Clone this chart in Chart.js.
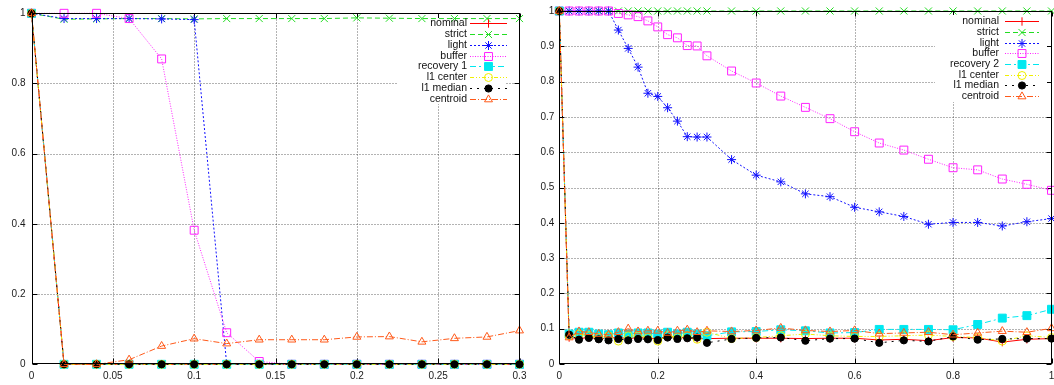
<!DOCTYPE html>
<html><head><meta charset="utf-8">
<script src="https://cdn.jsdelivr.net/npm/chart.js@4.4.1/dist/chart.umd.min.js"></script>
<style>
html,body{margin:0;padding:0;background:#fff;width:1054px;height:385px;overflow:hidden;}
#wl{position:absolute;left:0;top:0;width:527px;height:385px;}
#wr{position:absolute;left:527px;top:0;width:540px;height:385px;}
canvas{display:block;}
</style></head><body>
<div id="wl"><canvas id="cl" width="527" height="385"></canvas></div>
<div id="wr"><canvas id="cr" width="540" height="385"></canvas></div>
<script>
// ---------- data ----------
const leftNames  = ['nominal','strict','light','buffer','recovery 1','l1 center','l1 median','centroid'];
const rightNames = ['nominal','strict','light','buffer','recovery 2','l1 center','l1 median','centroid'];

const leftXTicks  = [0,0.05,0.1,0.15,0.2,0.25,0.3];
const leftYTicks  = [0,0.2,0.4,0.6,0.8,1];
const rightXTicks = [0,0.2,0.4,0.6,0.8,1];
const rightYTicks = [0,0.1,0.2,0.3,0.4,0.5,0.6,0.7,0.8,0.9,1];

const leftX = [0,0.02,0.04,0.06,0.08,0.1,0.12,0.14,0.16,0.18,0.2,0.22,0.24,0.26,0.28,0.3];
const leftNominal  = [1,0,0,0,0,0,0,0,0,0,0,0,0,0,0,0];
const leftStrict   = [1,0.983,0.984,0.985,0.985,0.984,0.985,0.985,0.985,0.985,0.987,0.986,0.985,0.985,0.985,0.985];
const leftLight    = [1,0.985,0.985,0.985,0.984,0.982,0,0,0,0,0,0,0,0,0,0];
const leftBuffer   = [1,1,1,0.985,0.87,0.382,0.09,0.008,0,0,0,0,0,0,0,0];
const leftRecovery = [1,0,0,0,0,0,0,0,0,0,0,0,0,0,0,0];
const leftL1Center = [1,0,0,0,0,0,0,0,0,0,0,0,0,0,0,0];
const leftL1Median = [1,0,0,0,0,0,0,0,0,0,0,0,0,0,0,0];
const leftCentroid = [1,0,0,0.013,0.052,0.073,0.059,0.07,0.07,0.07,0.078,0.079,0.064,0.074,0.078,0.096];

const rightX = [0,0.02,0.04,0.06,0.08,0.1,0.12,0.14,0.16,0.18,0.2,0.22,0.24,0.26,0.28,0.3,
                0.35,0.4,0.45,0.5,0.55,0.6,0.65,0.7,0.75,0.8,0.85,0.9,0.95,1];
const rightNominal  = [1,0.075,0.072,0.075,0.072,0.073,0.075,0.072,0.075,0.073,0.072,0.078,0.075,0.074,0.072,0.072,
                       0.073,0.073,0.073,0.072,0.073,0.073,0.068,0.07,0.066,0.075,0.074,0.062,0.07,0.072];
const rightStrict   = [1,1,1,1,1,1,1,1,1,1,1,1,1,1,1,1, 1,1,1,1,1,1,1,1,1,1,1,1,1,1];
const rightLight    = [1,1,1,1,1,1,0.946,0.894,0.841,0.767,0.758,0.726,0.688,0.644,0.643,0.643,
                       0.579,0.535,0.516,0.482,0.474,0.444,0.431,0.418,0.396,0.401,0.401,0.391,0.403,0.412];
const rightBuffer   = [1,1,1,1,1,1,0.993,0.989,0.984,0.972,0.955,0.933,0.924,0.902,0.901,0.873,
                       0.830,0.796,0.759,0.727,0.695,0.658,0.626,0.606,0.580,0.556,0.550,0.524,0.509,0.492];
const rightRecovery = [1,0.085,0.09,0.09,0.085,0.083,0.088,0.085,0.088,0.088,0.085,0.09,0.085,0.09,0.085,0.08,
                       0.091,0.092,0.097,0.094,0.088,0.089,0.098,0.098,0.098,0.097,0.112,0.130,0.137,0.155];
const rightL1Center = [1,0.08,0.085,0.08,0.075,0.08,0.065,0.08,0.08,0.075,0.065,0.08,0.075,0.08,0.07,0.09,
                       0.072,0.075,0.08,0.085,0.08,0.078,0.078,0.08,0.082,0.078,0.075,0.065,0.08,0.075];
const rightL1Median = [1,0.083,0.069,0.074,0.070,0.067,0.071,0.067,0.071,0.070,0.068,0.075,0.071,0.073,0.075,0.06,
                       0.071,0.074,0.075,0.066,0.072,0.072,0.060,0.067,0.064,0.078,0.069,0.071,0.072,0.072];
const rightCentroid = [1,0.075,0.092,0.09,0.085,0.083,0.09,0.1,0.092,0.094,0.094,0.088,0.094,0.097,0.09,0.094,
                       0.092,0.095,0.102,0.095,0.092,0.095,0.086,0.088,0.09,0.083,0.088,0.093,0.09,0.101];

// ---------- styles ----------
const STY = [
  {c:'#ff0000', dash:[],            ps:'cross',    r:4.2, fill:null},
  {c:'#22dd22', dash:[5,3],         ps:'crossRot', r:5,   fill:null},
  {c:'#1010ff', dash:[2,2],         ps:'star',     r:4.5, fill:null},
  {c:'#ff22ff', dash:[1,1.5],       ps:'rect',     r:5.6, fill:null},
  {c:'#00e8f0', dash:[6,3,2,3],     ps:'rect',     r:5.6, fill:'#00e8f0'},
  {c:'#f0f000', dash:[4,2,1,2,1,2], ps:'circle',   r:4,   fill:null},
  {c:'#000000', dash:[2,5],         ps:'circle',   r:3.6, fill:'#000000'},
  {c:'#ff5a1a', dash:[6,2,1,2],     ps:'triangle', r:4.6, fill:null}
];
const FONT = 'Liberation Sans, Arial, sans-serif';

function buildSets(xs, series){
  return series.map((vals,i)=>({
    label: i,
    data: xs.map((x,j)=>({x:x, y:vals[j]})),
    borderColor: STY[i].c, borderWidth: 1, borderDash: STY[i].dash,
    pointStyle: STY[i].ps, pointRadius: STY[i].r, pointBorderWidth: 1,
    pointBorderColor: STY[i].c,
    pointBackgroundColor: STY[i].fill || 'rgba(0,0,0,0)',
    fill: false, tension: 0, clip: false, order: 20 - i
  }));
}

function mark(ctx, s, x, y){
  const r = s.r, c = s.c;
  ctx.save(); ctx.setLineDash([]); ctx.lineWidth = 1; ctx.strokeStyle = c; ctx.fillStyle = s.fill || c;
  ctx.beginPath();
  if (s.ps === 'cross' || s.ps === 'star') { ctx.moveTo(x-r,y); ctx.lineTo(x+r,y); ctx.moveTo(x,y-r); ctx.lineTo(x,y+r); }
  if (s.ps === 'crossRot' || s.ps === 'star') { const d=r*Math.SQRT1_2; ctx.moveTo(x-d,y-d); ctx.lineTo(x+d,y+d); ctx.moveTo(x-d,y+d); ctx.lineTo(x+d,y-d); }
  if (s.ps === 'rect') { const d=r*Math.SQRT1_2; ctx.rect(x-d,y-d,2*d,2*d); if (s.fill) ctx.fill(); }
  if (s.ps === 'circle') { ctx.arc(x,y,r,0,Math.PI*2); if (s.fill) ctx.fill(); }
  if (s.ps === 'triangle') { ctx.moveTo(x,y-r); ctx.lineTo(x+0.866*r,y+0.5*r); ctx.lineTo(x-0.866*r,y+0.5*r); ctx.closePath(); }
  ctx.stroke(); ctx.restore();
}

const framePlugin = {
  id: 'gframe',
  beforeDatasetsDraw(chart, args, opts){
    const ctx = chart.ctx, a = chart.chartArea, xs = chart.scales.x, ys = chart.scales.y;
    const L = Math.round(a.left)+0.5, R = Math.round(a.right)-0.5, T = Math.round(a.top)+0.5, B = Math.round(a.bottom)-0.5;
    const k = opts.key;
    ctx.save();
    ctx.lineWidth = 1; ctx.strokeStyle = 'rgba(0,0,0,0.6)'; ctx.setLineDash([1,2]);
    opts.xt.forEach(v=>{ const p = Math.round(xs.getPixelForValue(v))+0.5; if (p>L+1 && p<R-1){ ctx.beginPath(); ctx.moveTo(p,T); ctx.lineTo(p,B); ctx.stroke(); }});
    opts.yt.forEach(v=>{ const p = Math.round(ys.getPixelForValue(v))+0.5; if (p>T+1 && p<B-1){ ctx.beginPath(); ctx.moveTo(L,p); ctx.lineTo(R,p); ctx.stroke(); }});
    ctx.setLineDash([]); ctx.strokeStyle = '#000';
    ctx.beginPath();
    opts.xt.forEach(v=>{ const p = Math.round(xs.getPixelForValue(v))+0.5; ctx.moveTo(p,B); ctx.lineTo(p,B-5); ctx.moveTo(p,T); ctx.lineTo(p,T+5); });
    opts.yt.forEach(v=>{ const p = Math.round(ys.getPixelForValue(v))+0.5; ctx.moveTo(L,p); ctx.lineTo(L+5,p); ctx.moveTo(R,p); ctx.lineTo(R-5,p); });
    ctx.stroke();
    // opaque key background (under the data)
    ctx.fillStyle = '#fff';
    ctx.fillRect(k.bx, k.by, k.bw, k.bh);
    ctx.restore();
  },
  afterDatasetsDraw(chart, args, opts){
    const ctx = chart.ctx, a = chart.chartArea;
    const L = Math.round(a.left)+0.5, R = Math.round(a.right)-0.5, T = Math.round(a.top)+0.5, B = Math.round(a.bottom)-0.5;
    const k = opts.key;
    ctx.save();
    ctx.font = '10.5px ' + FONT; ctx.textAlign = 'right'; ctx.textBaseline = 'middle'; ctx.fillStyle = '#111';
    opts.names.forEach((n,i)=>{
      const y = k.y0 + i*k.dy;
      ctx.fillText(n, k.tx, y);
      const s = STY[i];
      ctx.save(); ctx.strokeStyle = s.c; ctx.lineWidth = 1; ctx.setLineDash(s.dash);
      ctx.beginPath(); ctx.moveTo(k.l1, Math.round(y)+0.5); ctx.lineTo(k.l2, Math.round(y)+0.5); ctx.stroke(); ctx.restore();
      mark(ctx, s, (k.l1+k.l2)/2, Math.round(y)+0.5);
    });
    // frame
    ctx.strokeStyle = '#000'; ctx.lineWidth = 1; ctx.setLineDash([]);
    ctx.strokeRect(L, T, R-L, B-T);
    ctx.restore();
  }
};

function makeChart(id, xs, series, xt, yt, xmax, geom, names, key){
  return new Chart(document.getElementById(id), {
    type: 'line',
    data: { datasets: buildSets(xs, series) },
    plugins: [framePlugin],
    options: {
      responsive: false, animation: false, devicePixelRatio: 1, events: [],
      layout: { padding: { top: geom.top, right: geom.right, bottom: 0, left: 0 } },
      plugins: { legend: { display: false }, tooltip: { enabled: false },
                 gframe: { xt: xt, yt: yt, names: names, key: key } },
      scales: {
        x: { type: 'linear', min: 0, max: xmax,
             grid: { display: false, drawTicks: false }, border: { display: false },
             afterBuildTicks: s => { s.ticks = xt.map(v=>({value:v})); },
             ticks: { padding: 6, maxRotation: 0, autoSkip: false, color: '#1a1a1a',
                      font: { family: FONT, size: 10 }, callback: v => String(+v.toFixed(3)) },
             afterFit: s => { s.height = geom.xh; s.paddingLeft = 0; s.paddingRight = 0; } },
        y: { type: 'linear', min: 0, max: 1,
             grid: { display: false, drawTicks: false }, border: { display: false },
             afterBuildTicks: s => { s.ticks = yt.map(v=>({value:v})); },
             ticks: { padding: geom.ypad, color: '#1a1a1a',
                      font: { family: FONT, size: 10 }, callback: v => String(+v.toFixed(3)) },
             afterFit: s => { s.width = geom.yw; s.paddingTop = 0; s.paddingBottom = 0; } }
      }
    }
  });
}

makeChart('cl', leftX,
  [leftNominal,leftStrict,leftLight,leftBuffer,leftRecovery,leftL1Center,leftL1Median,leftCentroid],
  leftXTicks, leftYTicks, 0.3,
  { top: 13.3, right: 7.5, xh: 20.7, yw: 31.5, ypad: 6 },
  leftNames,
  { bx: 398, by: 18, bw: 108, bh: 86, tx: 467, l1: 470, l2: 507, y0: 23.3, dy: 10.77 });

makeChart('cr', rightX,
  [rightNominal,rightStrict,rightLight,rightBuffer,rightRecovery,rightL1Center,rightL1Median,rightCentroid],
  rightXTicks, rightYTicks, 1,
  { top: 11, right: 15.5, xh: 21, yw: 32.3, ypad: 5 },
  rightNames,
  { bx: 935-527, by: 15, bw: 112, bh: 87, tx: 999-527, l1: 1005-527, l2: 1039-527, y0: 21.3, dy: 10.67 });
</script>
</body></html>
